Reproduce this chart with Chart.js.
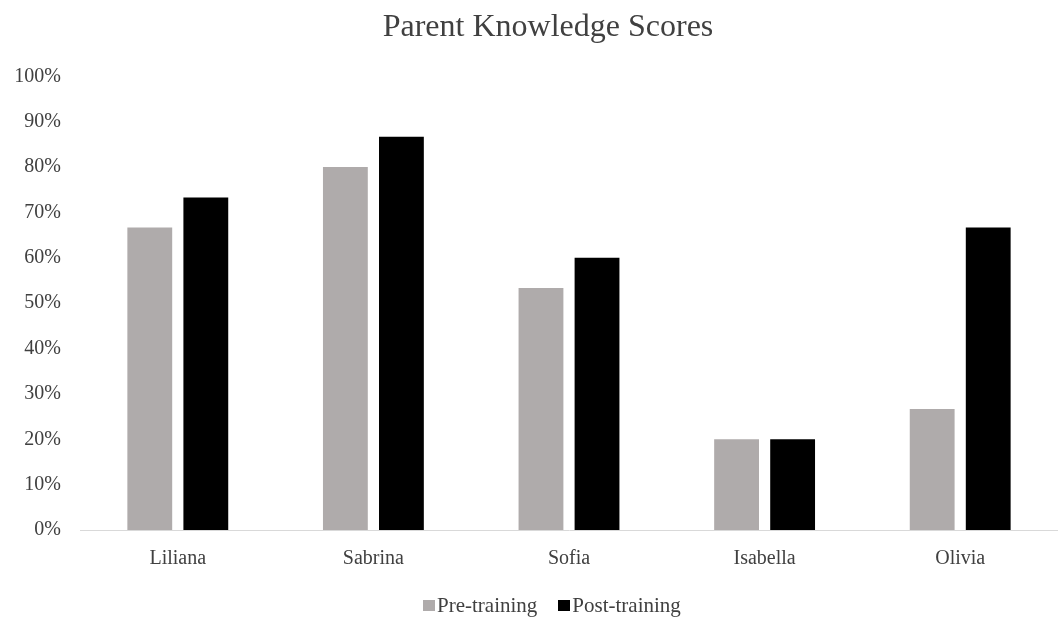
<!DOCTYPE html>
<html>
<head>
<meta charset="utf-8">
<title>Parent Knowledge Scores</title>
<script src="https://cdn.jsdelivr.net/npm/chart.js@4/dist/chart.umd.min.js"></script>
<style>
  html, body { margin: 0; padding: 0; background: #ffffff; }
  #wrap { position: relative; width: 1058px; height: 622px; }
  #legend {
    position: absolute; left: 423px; top: 594px; height: 22px;
    display: flex; align-items: center;
    font-family: 'Liberation Serif', 'Times New Roman', serif;
    font-size: 21px; line-height: 22px; color: #404040;
  }
  #legend .item { display: flex; align-items: center; margin-right: 21px; }
  #legend .swatch { width: 12px; height: 11px; margin-right: 2px; }
</style>
</head>
<body>
<div id="wrap">
  <canvas id="scoresChart"></canvas>
  <div id="legend"></div>
</div>
<script>
const categories = ['Liliana', 'Sabrina', 'Sofia', 'Isabella', 'Olivia'];
const preTraining = [66.67, 80, 53.33, 20, 26.67];
const postTraining = [73.33, 86.67, 60, 20, 66.67];
const yTicks = [0, 10, 20, 30, 40, 50, 60, 70, 80, 90, 100];

const textColor = '#404040';
const serif = "'Liberation Serif', 'Times New Roman', serif";

// nudge the title a little to the right of the canvas centre
const titleShift = {
  id: 'titleShift',
  afterLayout(chart) {
    if (chart.titleBlock) chart.titleBlock.left += 38;
  }
};

const ctx = document.getElementById('scoresChart').getContext('2d');

const chart = new Chart(ctx, {
  type: 'bar',
  data: {
    labels: categories,
    datasets: [
      {
        label: 'Pre-training',
        data: preTraining,
        backgroundColor: '#afabab',
        barPercentage: 0.8,
        categoryPercentage: 0.573
      },
      {
        label: 'Post-training',
        data: postTraining,
        backgroundColor: '#000000',
        barPercentage: 0.8,
        categoryPercentage: 0.573
      }
    ]
  },
  options: {
    responsive: true,
    maintainAspectRatio: false,
    animation: false,
    layout: { padding: { top: 0, right: 0, bottom: 36, left: 0 } },
    plugins: {
      title: {
        display: true,
        text: 'Parent Knowledge Scores',
        color: textColor,
        font: { family: serif, size: 32, weight: 'normal' },
        padding: { top: 8, bottom: 30 }
      },
      legend: { display: false },
      tooltip: { enabled: false }
    },
    scales: {
      x: {
        grid: { display: false, drawTicks: false },
        border: { display: true, color: '#d9d9d9', width: 1 },
        ticks: {
          color: textColor,
          font: { family: serif, size: 20 },
          padding: 17
        },
        afterFit: scale => { scale.height = 56; }
      },
      y: {
        min: 0,
        max: 100,
        afterBuildTicks: scale => { scale.ticks = yTicks.map(v => ({ value: v })); },
        grid: { display: false, drawTicks: false },
        border: { display: false },
        ticks: {
          color: textColor,
          font: { family: serif, size: 20 },
          padding: 19,
          callback: value => value + '%'
        },
        afterFit: scale => { scale.width = 80; }
      }
    }
  },
  plugins: [titleShift]
});

// legend built from the chart's own datasets
const legendEl = document.getElementById('legend');
chart.data.datasets.forEach(ds => {
  const item = document.createElement('div');
  item.className = 'item';
  item.innerHTML = `<span class="swatch" style="background:${ds.backgroundColor}"></span><span>${ds.label}</span>`;
  legendEl.appendChild(item);
});
</script>
</body>
</html>
